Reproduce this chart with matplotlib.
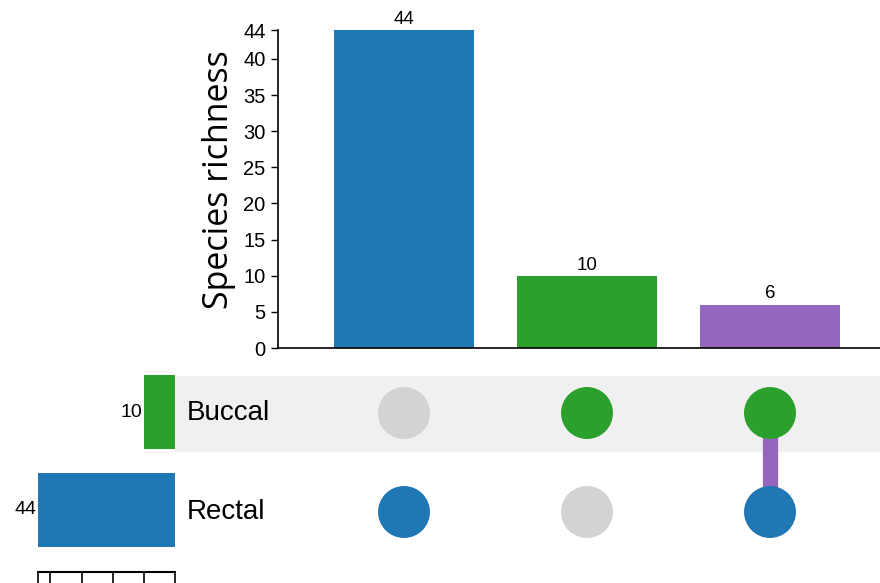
import matplotlib
matplotlib.use("Agg")
import matplotlib.pyplot as plt
import numpy as np

plt.rcParams['font.family'] = ['Liberation Sans', 'DejaVu Sans']

# intersections (columns) and sets (rows)
sets = ["Rectal", "Buccal"]
set_sizes = [44, 10]
set_colors = ["#1f77b4", "#2ca02c"]
inter_sizes = [44, 10, 6]
inter_colors = ["#1f77b4", "#2ca02c", "#9467bd"]
# membership: rows = sets (Rectal, Buccal), cols = intersections
members = [[1, 0, 1],
           [0, 1, 1]]
y_ticks = [0, 5, 10, 15, 20, 25, 30, 35, 40, 44]
size_ticks = [0, 10, 20, 30, 40, 44]

W, H = 880, 583
fig = plt.figure(figsize=(W / 100, H / 100), dpi=100)


def box(x0, y0, x1, y1):
    # pixel box (top-left origin) -> figure fraction
    return [x0 / W, 1 - y1 / H, (x1 - x0) / W, (y1 - y0) / H]


unit = 183.0          # px per column
c0 = 404.0            # px centre of first column
bw = 140 / unit

# ---- intersection bars ----
ax = fig.add_axes(box(278, 30, 880, 348))
xs = np.arange(len(inter_sizes))
ax.bar(xs, inter_sizes, width=bw, color=inter_colors)
for x, v in zip(xs, inter_sizes):
    ax.text(x, v + 0.3, str(v), ha="center", va="bottom", fontsize=13.5)
ax.set_xlim((278 - c0) / unit, (880 - c0) / unit)
ax.set_ylim(0, 44)
ax.set_yticks(y_ticks)
ax.tick_params(axis="y", labelsize=14.5, length=5, width=1, pad=4)
ax.set_xticks([])
for s in ["top", "right"]:
    ax.spines[s].set_visible(False)
ax.spines["left"].set_linewidth(1.2)
ax.spines["bottom"].set_linewidth(1.2)
ax.set_ylabel("Species richness", fontsize=24.5, family=["Open Sans", "DejaVu Sans"])
ax.yaxis.set_label_coords(-0.07, 0.53)

# ---- matrix ----
mx = fig.add_axes(box(175, 360, 880, 560))
mx.set_xlim((175 - c0) / unit, (880 - c0) / unit)
mx.set_ylim(-48 / 99, 1 + 53 / 99)
mx.axis("off")
bh = 75 / 99
mx.axhspan(1 - bh / 2, 1 + bh / 2, color="#f0f0f0", zorder=0)
for r, name in enumerate(sets):
    mx.text((187 - c0) / unit, r, name, fontsize=20, va="center", ha="left")
for c in range(len(inter_sizes)):
    rows = [r for r in range(len(sets)) if members[r][c]]
    if len(rows) > 1:
        mx.plot([c, c], [min(rows), max(rows)], color=inter_colors[c],
                lw=11, solid_capstyle="butt", zorder=1)
    for r in range(len(sets)):
        col = set_colors[r] if members[r][c] else "#d3d3d3"
        mx.scatter(c, r, s=1400, color=col, edgecolor="none", zorder=2)

# ---- set sizes ----
sx = fig.add_axes(box(38, 360, 175, 572))
sx.barh(range(len(sets)), set_sizes, height=bh, color=set_colors)
sx.set_xlim(44, 0)
sx.set_ylim(-63 / 99, 1 + 53 / 99)
for r, v in enumerate(set_sizes):
    sx.text(v + 0.6, r, str(v), ha="right", va="center", fontsize=14)
sx.set_yticks([])
sx.set_xticks(size_ticks)
sx.tick_params(axis="x", labelbottom=False, length=8, width=1.2)
for s in ["top", "right", "left"]:
    sx.spines[s].set_visible(False)
sx.spines["bottom"].set_linewidth(1.5)

fig.savefig("out.png", dpi=100)
